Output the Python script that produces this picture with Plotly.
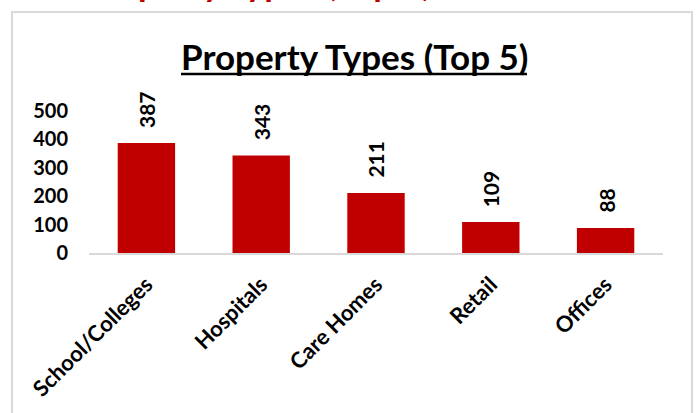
import plotly.graph_objects as go

categories = ["School/Colleges", "Hospitals", "Care Homes", "Retail", "Offices"]
values = [387, 343, 211, 109, 88]
y_ticks = [0, 100, 200, 300, 400, 500]

RED = "#c00000"
FONT = "Lato"
TITLE = "<b>Property Types (Top 5)</b>"

# plot area in pixels: x 89..663, y 111..253
W, H = 696, 413
L, R, T, B = 89, 33, 111, 160
pw, ph = W - L - R, H - T - B


def px_x(x):
    return (x - L) / pw


def px_y(y):
    return (H - B - y) / ph


fig = go.Figure()

fig.add_trace(go.Bar(
    x=categories,
    y=values,
    marker=dict(color=RED, line=dict(width=0)),
    width=0.5,
    hoverinfo="skip",
))

# rotated value labels above bars
for c, v in zip(categories, values):
    fig.add_annotation(
        x=c, y=v, text=f"<b>{v}</b>", textangle=-90,
        showarrow=False, yanchor="bottom", yshift=13,
        font=dict(family=FONT, size=21, color="black"),
    )

# chart title
fig.add_annotation(
    xref="paper", yref="paper", x=px_x(354), y=px_y(79),
    text=TITLE, showarrow=False,
    xanchor="center", yanchor="bottom",
    font=dict(family=FONT, size=35, color="black"),
)
# underline
fig.add_shape(
    type="line", xref="paper", yref="paper",
    x0=px_x(181), x1=px_x(527), y0=px_y(74), y1=px_y(74),
    line=dict(color="black", width=2.5),
)

# clipped red heading at top of the page
fig.add_annotation(
    xref="paper", yref="paper", x=px_x(257), y=px_y(5),
    text=TITLE, showarrow=False,
    xanchor="center", yanchor="bottom",
    font=dict(family=FONT, size=35, color=RED),
)

# chart border
fig.add_shape(
    type="rect", xref="paper", yref="paper",
    x0=px_x(12), x1=px_x(692), y0=px_y(430), y1=px_y(12),
    line=dict(color="#d9d9d9", width=2), fillcolor="rgba(0,0,0,0)",
    layer="below",
)

fig.update_layout(
    width=W, height=H,
    margin=dict(l=L, r=R, t=T, b=B, pad=0),
    paper_bgcolor="white", plot_bgcolor="white",
    showlegend=False,
    bargap=0.5,
    xaxis=dict(
        tickangle=-45, automargin=False,
        tickfont=dict(family=FONT, size=22, color="black", weight="bold"),
        showline=True, linecolor="#d9d9d9", linewidth=2,
        showgrid=False, ticks="", ticklabelstandoff=8,
    ),
    yaxis=dict(
        range=[0, 500], tickvals=y_ticks, automargin=False,
        tickfont=dict(family=FONT, size=20, color="black", weight="bold"),
        showline=False, showgrid=False, zeroline=False,
        ticks="", ticklabelstandoff=20,
    ),
)

fig.write_html("out.html", config={"displayModeBar": False},
               post_script="document.body.style.margin='0';")
